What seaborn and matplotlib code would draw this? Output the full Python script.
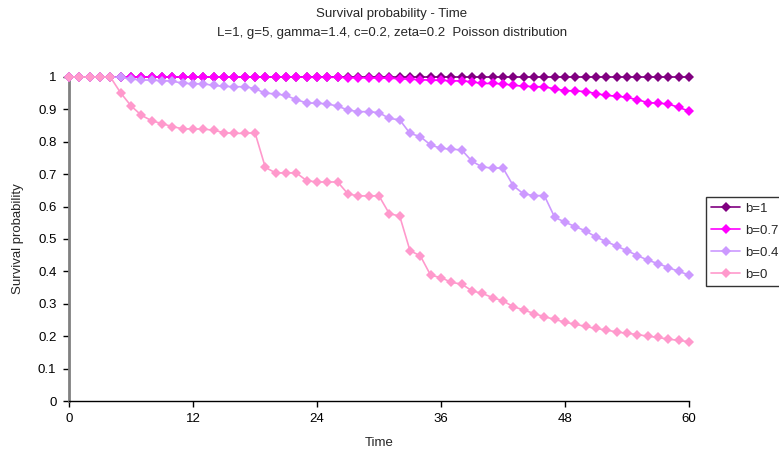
import matplotlib
matplotlib.use("Agg")
import matplotlib.pyplot as plt
import seaborn as sns
import pandas as pd

time = list(range(0, 61))

b1 = [1.0] * 61

b07 = [1.0] * 23 + [0.999, 0.999, 0.999, 0.999, 0.998, 0.998, 0.997, 0.997, 0.996,
                    0.995, 0.993, 0.992, 0.990, 0.990, 0.988, 0.988, 0.985, 0.980, 0.980,
                    0.979, 0.974, 0.972, 0.970, 0.970, 0.963, 0.958, 0.957, 0.955, 0.949,
                    0.943, 0.941, 0.937, 0.930, 0.921, 0.919, 0.917, 0.906, 0.895]

b04 = [1.0, 1.0, 1.0, 1.0, 1.0, 0.999, 0.994, 0.991, 0.990, 0.989, 0.987, 0.981, 0.979,
       0.979, 0.974, 0.971, 0.970, 0.970, 0.964, 0.950, 0.948, 0.943, 0.930, 0.920, 0.919,
       0.917, 0.910, 0.898, 0.893, 0.893, 0.890, 0.872, 0.868, 0.826, 0.816, 0.790, 0.780,
       0.777, 0.775, 0.740, 0.722, 0.719, 0.719, 0.664, 0.639, 0.634, 0.634, 0.567, 0.552,
       0.538, 0.525, 0.506, 0.492, 0.478, 0.464, 0.449, 0.435, 0.424, 0.412, 0.400, 0.389]

b0 = [1.0, 1.0, 1.0, 1.0, 1.0, 0.951, 0.911, 0.882, 0.865, 0.856, 0.847, 0.840, 0.840,
      0.839, 0.836, 0.828, 0.826, 0.826, 0.828, 0.721, 0.704, 0.704, 0.704, 0.680, 0.676,
      0.676, 0.676, 0.639, 0.633, 0.633, 0.633, 0.578, 0.571, 0.464, 0.448, 0.388, 0.381,
      0.366, 0.361, 0.340, 0.332, 0.319, 0.309, 0.291, 0.281, 0.270, 0.260, 0.252, 0.243,
      0.237, 0.230, 0.224, 0.219, 0.213, 0.209, 0.205, 0.200, 0.196, 0.191, 0.187, 0.183]

series_names = ["b=1", "b=0.7", "b=0.4", "b=0"]
series_values = [b1, b07, b04, b0]
series_colors = ["#800080", "#FF00FF", "#CC99FF", "#FF99CC"]

x_ticks = [0, 12, 24, 36, 48, 60]
y_ticks = [0, 0.1, 0.2, 0.3, 0.4, 0.5, 0.6, 0.7, 0.8, 0.9, 1.0]
y_tick_labels = ["0", "0.1", "0.2", "0.3", "0.4", "0.5", "0.6", "0.7", "0.8", "0.9", "1"]

rows = []
for name, vals in zip(series_names, series_values):
    for t, v in zip(time, vals):
        rows.append({"Time": t, "Survival probability": v, "series": name})
df = pd.DataFrame(rows)

sns.set_theme(style="white")
plt.rcParams["font.family"] = ["Liberation Sans", "DejaVu Sans"]

fig = plt.figure(figsize=(7.79, 4.59), dpi=100)
ax = fig.add_axes([69 / 779, 1 - 401 / 459, 620 / 779, 324 / 459])

sns.lineplot(data=df, x="Time", y="Survival probability", hue="series",
             hue_order=series_names, palette=series_colors, marker="D",
             markersize=4.8, markeredgewidth=0, linewidth=1.2, ax=ax,
             clip_on=False, zorder=3)

ax.set_xlim(0, 60)
ax.set_ylim(0, 1)
ax.set_xticks(x_ticks)
ax.set_xticklabels([str(t) for t in x_ticks])
ax.set_yticks(y_ticks)
ax.set_yticklabels(y_tick_labels)
ax.tick_params(axis="both", labelsize=9.5, labelcolor="black", color="black",
               direction="out", length=4, width=1, pad=5,
               bottom=True, left=True, top=False, right=False)
ax.grid(False)

for s in ["top", "right"]:
    ax.spines[s].set_visible(False)
ax.spines["left"].set_color("#808080")
ax.spines["left"].set_linewidth(2)
ax.spines["bottom"].set_color("black")
ax.spines["bottom"].set_linewidth(1)

ax.set_xlabel("Time", fontsize=9.5, labelpad=8)
ax.set_ylabel("Survival probability", fontsize=9.5, labelpad=10)

fig.text(0.503, 1 - 14 / 459, "Survival probability - Time", ha="center", va="center", fontsize=9.5)
fig.text(0.503, 1 - 33 / 459, "L=1, g=5, gamma=1.4, c=0.2, zeta=0.2  Poisson distribution",
         ha="center", va="center", fontsize=9.5)

handles, labels = ax.get_legend_handles_labels()
leg = ax.legend(handles, labels, loc="upper left",
                bbox_to_anchor=(706 / 779, 1 - 197 / 459), bbox_transform=fig.transFigure,
                frameon=True, fancybox=False, fontsize=9.5, handlelength=2.2,
                handletextpad=0.4, borderpad=0.4, labelspacing=0.75, borderaxespad=0)
leg.get_frame().set_edgecolor("black")
leg.get_frame().set_linewidth(1)

fig.savefig("out.png", dpi=100)
